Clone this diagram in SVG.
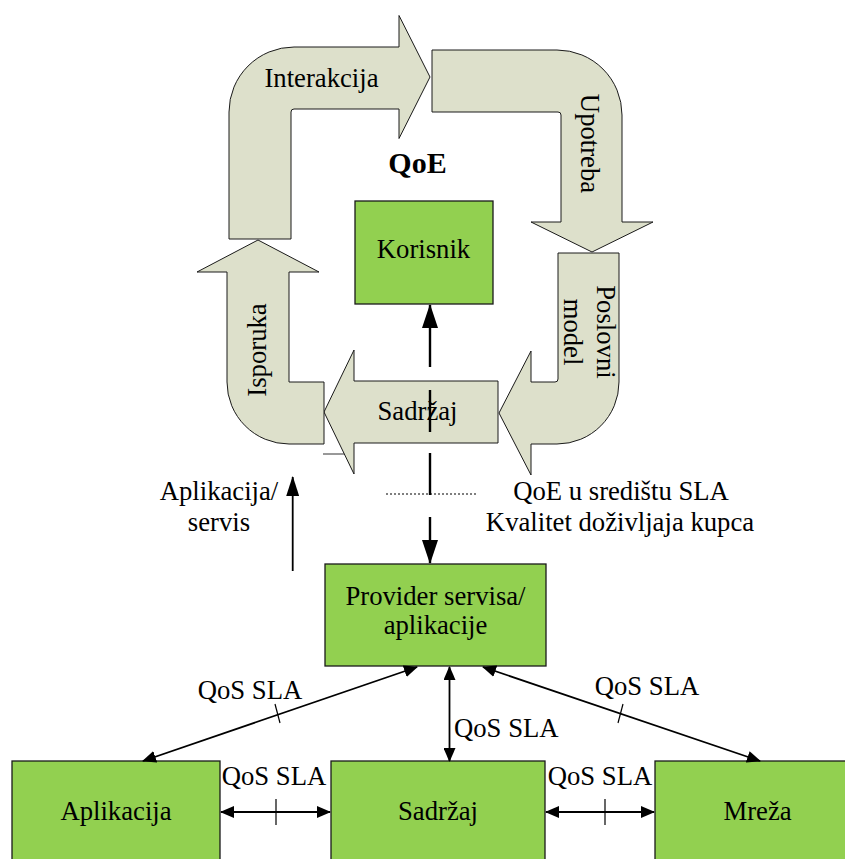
<svg xmlns="http://www.w3.org/2000/svg" width="845" height="859" viewBox="0 0 845 859">
<defs>
<style>
text{font-family:"Liberation Serif","Times New Roman",serif;font-size:26.7px;fill:#000}
.mid{text-anchor:middle}
.flow{fill:#dde0cb;stroke:#1a1a1a;stroke-width:1;stroke-linejoin:miter}
.box{fill:#92d050;stroke:#1a1a1a;stroke-width:1.3}
.conn{stroke:#000;stroke-width:1.8;fill:none}
.thick{stroke:#000;stroke-width:2.4;fill:none}
.tick{stroke:#000;stroke-width:1.2}
</style>
<marker id="ah" viewBox="0 0 14 12" markerWidth="14" markerHeight="12" refX="13" refY="6" markerUnits="userSpaceOnUse" orient="auto-start-reverse">
<path d="M0,0 L14,6 L0,12 z" fill="#000"/>
</marker>
<marker id="ahBig" viewBox="0 0 24 16" markerWidth="24" markerHeight="16" refX="23" refY="8" markerUnits="userSpaceOnUse" orient="auto">
<path d="M0,0 L24,8 L0,16 z" fill="#000"/>
</marker>
<marker id="ahMid" viewBox="0 0 20 13" markerWidth="20" markerHeight="13" refX="19" refY="6.5" markerUnits="userSpaceOnUse" orient="auto">
<path d="M0,0 L20,6.5 L0,13 z" fill="#000"/>
</marker>
</defs>
<rect width="845" height="859" fill="#fff"/>

<g id="interakcija">
<path class="flow" d="M229,239 L229,112 A65,65 0 0 1 294,47 L399,47 L399,15.5 L430,77 L399,138.5 L399,109 L294,109 Q291,109 291,112 L291,239 Z"/>
<text class="mid" x="321.5" y="87">Interakcija</text>
</g>

<g id="upotreba">
<path class="flow" d="M432,50 L557,50 A65,65 0 0 1 622,115 L622,222 L653,222 L592,252 L531,222 L561,222 L561,115 Q561,112 558,112 L432,112 Z"/>
<text class="mid" transform="translate(581,143.5) rotate(90)">Upotreba</text>
</g>

<g id="qoe-title">
<text class="mid" x="417.5" y="173" style="font-weight:bold;font-size:30px">QoE</text>
</g>

<g id="poslovni-model">
<path class="flow" d="M558,253 L619,253 L619,382 A62,62 0 0 1 557,444 L531,444 L531,475 L499,413 L531,351 L531,382 L555,382 Q558,382 558,379 Z"/>
<text class="mid" transform="translate(597,332) rotate(90)">Poslovni</text>
<text class="mid" transform="translate(564,332) rotate(90)">model</text>
</g>

<line x1="323" y1="454" x2="352" y2="454" stroke="#333" stroke-width="1"/>

<g id="sadrzaj-flow">
<path class="flow" d="M324,412 L354,350 L354,381 L498,381 L498,443 L354,443 L354,474 Z"/>
<text class="mid" x="417.5" y="420">Sadržaj</text>
</g>

<g id="isporuka">
<path class="flow" d="M258,240 L319,272 L289,272 L289,382 L324,382 L324,444 L289,444 A62,62 0 0 1 227,382 L227,272 L197,272 Z"/>
<text class="mid" transform="translate(266,350) rotate(-90)">Isporuka</text>
</g>

<g id="korisnik">
<rect class="box" x="355" y="201" width="138" height="103"/>
<text class="mid" x="423.5" y="258">Korisnik</text>
</g>

<g id="provider">
<rect class="box" x="325" y="564" width="221" height="102"/>
<text class="mid" x="435.5" y="605">Provider servisa/</text>
<text class="mid" x="435.5" y="634">aplikacije</text>
</g>

<g id="aplikacija">
<rect class="box" x="12" y="761" width="208" height="110"/>
<text class="mid" x="116" y="820">Aplikacija</text>
</g>

<g id="sadrzaj">
<rect class="box" x="331" y="761" width="214" height="110"/>
<text class="mid" x="438" y="820">Sadržaj</text>
</g>

<g id="mreza">
<rect class="box" x="655" y="761" width="205" height="110"/>
<text class="mid" x="757.5" y="820">Mreža</text>
</g>

<g id="labels">
<text class="mid" x="219" y="500">Aplikacija/</text>
<text class="mid" x="219" y="531">servis</text>
<text class="mid" x="621" y="500">QoE u središtu SLA</text>
<text class="mid" x="620" y="531">Kvalitet doživljaja kupca</text>
<text class="mid" x="250" y="699">QoS SLA</text>
<text x="454" y="737">QoS SLA</text>
<text class="mid" x="647" y="695">QoS SLA</text>
<text class="mid" x="274" y="785">QoS SLA</text>
<text class="mid" x="600" y="785">QoS SLA</text>
</g>

<g id="connectors">
<line class="thick" x1="430" y1="367" x2="430" y2="305" marker-end="url(#ahBig)"/>
<line class="thick" x1="430" y1="390" x2="430" y2="432"/>
<line class="thick" x1="430" y1="453" x2="430" y2="495"/>
<line x1="386" y1="494" x2="478" y2="494" stroke="#000" stroke-width="1.2" stroke-dasharray="2,2"/>
<line class="thick" x1="430" y1="517" x2="430" y2="563" marker-end="url(#ahBig)"/>
<line class="conn" x1="292.7" y1="571" x2="292.7" y2="477" marker-end="url(#ahMid)"/>
<line class="conn" x1="143" y1="761" x2="417" y2="667" marker-start="url(#ah)" marker-end="url(#ah)"/>
<line class="conn" x1="449.5" y1="761" x2="449.5" y2="667" marker-start="url(#ah)" marker-end="url(#ah)"/>
<line class="conn" x1="760" y1="761" x2="483" y2="667" marker-start="url(#ah)" marker-end="url(#ah)"/>
<line class="conn" x1="221" y1="812" x2="330" y2="812" marker-start="url(#ah)" marker-end="url(#ah)"/>
<line class="conn" x1="546" y1="812" x2="654" y2="812" marker-start="url(#ah)" marker-end="url(#ah)"/>
<line class="tick" x1="276" y1="799" x2="276" y2="825"/>
<line class="tick" x1="605" y1="799" x2="605" y2="825"/>
<line class="tick" x1="275" y1="704" x2="280" y2="723"/>
<line class="tick" x1="623" y1="704" x2="618" y2="723"/>
</g>
</svg>
